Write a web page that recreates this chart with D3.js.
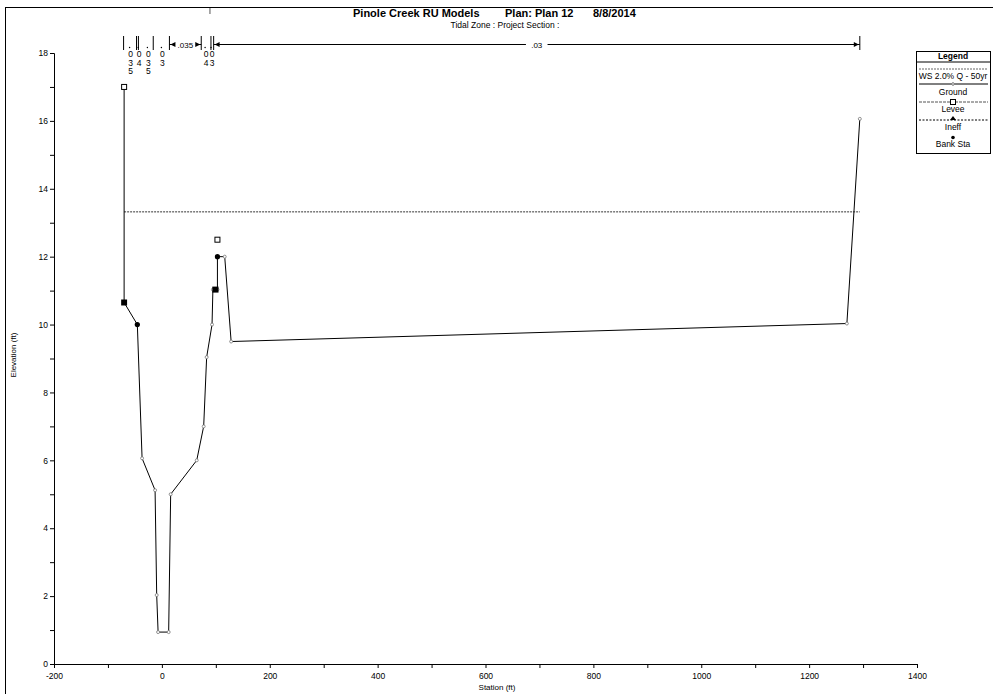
<!DOCTYPE html>
<html>
<head>
<meta charset="utf-8">
<script src="https://cdn.jsdelivr.net/npm/d3@7"></script>
<style>
  body { margin: 0; background: #fff; }
  svg { font-family: 'Liberation Sans', Arial, sans-serif; }
</style>
</head>
<body>
<svg id="chart"></svg>
<script>
// cross section data (station ft, elevation ft)
let groundSta  = [-70, -70, -45.5, -36.7, -12.6, -9.6, -7, 12.6, 16.3, 64.6, 77.5, 83, 93, 94.6, 103, 103, 116.5, 128.4, 1270, 1294]
let groundElev = [17.0, 10.65, 10.0, 6.06, 5.12, 2.03, 0.94, 0.94, 5.0, 6.0, 7.0, 9.04, 10.0, 11.03, 11.03, 12.0, 12.0, 9.5, 10.03, 16.06]

let wsSta = [-70, 1294]
let wsElev = 13.32

let leveeSta = [-70, 103]
let leveeElev = [17.0, 12.5]

let bankSta = [-45.5, 103]
let bankElev = [10.0, 12.0]

// ineffective flow blocks [start, end, elevation]
let ineffBlocks = [[-75.5, -64.5, 10.65], [93.5, 105, 11.03]]

// manning's n labels
let nTicks = [-71, -47, -43.5, -16, 14, 73, 91, 96, 1294]
let nStackSta = [-58, -42, -25, 1, 82, 93]
let nStackVal = ['035', '04', '035', '03', '04', '03']
let nBrackets = [[14, 73, '.035'], [96, 1294, '.03']]

let xTicks = d3.range(-200, 1401, 100)
let yTicks = d3.range(0, 19, 1)

let width = 993
let height = 694

let svg = d3.select('#chart').attr('width', width).attr('height', height)

let xScale = d3.scaleLinear().domain([-200, 1400]).range([54, 917])
let yScale = d3.scaleLinear().domain([0, 18]).range([664, 53])

// page frame
svg.append('line').attr('x1', 5).attr('x2', width).attr('y1', 7.5).attr('y2', 7.5).attr('stroke', '#000')
svg.append('line').attr('x1', 5.5).attr('x2', 5.5).attr('y1', 7).attr('y2', height).attr('stroke', '#000')

// titles
let title = svg.append('g').attr('font-size', 11).attr('font-weight', 'bold')
title.append('text').attr('x', 353).attr('y', 17).text('Pinole Creek RU Models')
title.append('text').attr('x', 505).attr('y', 17).text('Plan: Plan 12')
title.append('text').attr('x', 593).attr('y', 17).text('8/8/2014')
svg.append('text').attr('x', 505).attr('y', 28).attr('text-anchor', 'middle')
   .attr('font-size', 8.5).text('Tidal Zone : Project Section :')

// axes
let xAxis = d3.axisBottom(xScale).tickValues(xTicks).tickSize(4).tickSizeOuter(0)
              .tickFormat(d => d % 200 === 0 ? d : '')
let gx = svg.append('g').attr('transform', 'translate(0,' + yScale(0) + ')').call(xAxis)

let yAxis = d3.axisLeft(yScale).tickValues(yTicks).tickSize(4).tickSizeOuter(4)
              .tickFormat(d => d % 2 === 0 ? d : '')
let gy = svg.append('g').attr('transform', 'translate(' + xScale(-200) + ',0)').call(yAxis)

svg.selectAll('.tick text').attr('font-size', 8.5).attr('font-family', "'Liberation Sans', Arial, sans-serif")
gx.selectAll('.tick text').attr('dy', '0.9em')
gy.selectAll('.tick text').attr('dx', '1px')

svg.append('text').attr('x', 497).attr('y', 690).attr('text-anchor', 'middle')
   .attr('font-size', 8).text('Station (ft)')
svg.append('text').attr('transform', 'translate(16,355) rotate(-90)').attr('text-anchor', 'middle')
   .attr('font-size', 8).text('Elevation (ft)')

// water surface
svg.append('line')
   .attr('x1', xScale(wsSta[0])).attr('x2', xScale(wsSta[1]))
   .attr('y1', yScale(wsElev)).attr('y2', yScale(wsElev))
   .attr('stroke', '#333').attr('stroke-dasharray', '2,1')

// ground line
let ground = groundSta.map((s, i) => [s, groundElev[i]])
let line = d3.line().x(d => xScale(d[0])).y(d => yScale(d[1]))
svg.append('path').datum(ground).attr('d', line)
   .attr('fill', 'none').attr('stroke', '#000').attr('stroke-width', 1)

svg.selectAll('.gpt').data(ground).enter().append('circle')
   .attr('cx', d => xScale(d[0])).attr('cy', d => yScale(d[1])).attr('r', 1.5)
   .attr('fill', '#fff').attr('stroke', '#777').attr('stroke-width', 0.8)

// ineffective blocks
svg.selectAll('.ineff').data(ineffBlocks).enter().append('rect')
   .attr('x', d => xScale(d[0])).attr('width', d => xScale(d[1]) - xScale(d[0]))
   .attr('y', d => yScale(d[2]) - 3).attr('height', 6).attr('fill', '#000')

// levee squares
svg.selectAll('.levee').data(leveeSta).enter().append('rect')
   .attr('x', (d) => xScale(d) - 2.5).attr('y', (d, i) => yScale(leveeElev[i]) - 2.5)
   .attr('width', 5).attr('height', 5).attr('fill', '#fff').attr('stroke', '#000')

// bank stations
svg.selectAll('.bank').data(bankSta).enter().append('circle')
   .attr('cx', d => xScale(d)).attr('cy', (d, i) => yScale(bankElev[i])).attr('r', 2.6)
   .attr('fill', '#000')

// manning's n annotations
let nG = svg.append('g').attr('font-size', 8.5)
nTicks.forEach(s => {
    nG.append('line').attr('x1', xScale(s)).attr('x2', xScale(s))
      .attr('y1', 36).attr('y2', 50).attr('stroke', '#000')
})
nG.append('line').attr('x1', xScale(91) - 1).attr('x2', xScale(91) - 1)
  .attr('y1', 8).attr('y2', 14).attr('stroke', '#555')
nStackSta.forEach((s, i) => {
    let x = xScale(s)
    nG.append('circle').attr('cx', x - 1).attr('cy', 47.5).attr('r', 0.7).attr('fill', '#000')
    nStackVal[i].split('').forEach((c, j) => {
        nG.append('text').attr('x', x).attr('y', 57 + j * 8.5).attr('text-anchor', 'middle').text(c)
    })
})
nBrackets.forEach(b => {
    let x1 = xScale(b[0]), x2 = xScale(b[1]), xm = (x1 + x2) / 2
    let half = b[2].length * 2.6 + 3
    nG.append('line').attr('x1', x1).attr('x2', xm - half).attr('y1', 44.5).attr('y2', 44.5).attr('stroke', '#000')
    nG.append('line').attr('x1', xm + half).attr('x2', x2).attr('y1', 44.5).attr('y2', 44.5).attr('stroke', '#000')
    nG.append('path').attr('d', `M${x1 + 1},44.5 l5,-2.5 v5 z`).attr('fill', '#000')
    nG.append('path').attr('d', `M${x2 - 1},44.5 l-5,-2.5 v5 z`).attr('fill', '#000')
    nG.append('text').attr('x', xm).attr('y', 47.5).attr('text-anchor', 'middle').attr('font-size', 8).text(b[2])
})

// legend
let lg = svg.append('g').attr('font-size', 8.5)
lg.append('rect').attr('x', 916.5).attr('y', 51.5).attr('width', 74).attr('height', 102)
  .attr('fill', '#fff').attr('stroke', '#000')
lg.append('text').attr('x', 953).attr('y', 59).attr('text-anchor', 'middle')
  .attr('font-weight', 'bold').text('Legend')
lg.append('line').attr('x1', 917).attr('x2', 990).attr('y1', 62).attr('y2', 62).attr('stroke', '#000')
lg.append('line').attr('x1', 919).attr('x2', 988).attr('y1', 69).attr('y2', 69).attr('stroke', '#666').attr('stroke-dasharray', '2,1')
lg.append('text').attr('x', 953).attr('y', 79).attr('text-anchor', 'middle').text('WS 2.0% Q - 50yr')
lg.append('line').attr('x1', 919).attr('x2', 988).attr('y1', 84).attr('y2', 84).attr('stroke', '#000')
lg.append('circle').attr('cx', 953).attr('cy', 84).attr('r', 1.3).attr('fill', '#fff').attr('stroke', '#777')
lg.append('text').attr('x', 953).attr('y', 95).attr('text-anchor', 'middle').text('Ground')
lg.append('line').attr('x1', 919).attr('x2', 988).attr('y1', 102).attr('y2', 102).attr('stroke', '#555').attr('stroke-dasharray', '3,1')
lg.append('rect').attr('x', 950.5).attr('y', 99.5).attr('width', 5).attr('height', 5).attr('fill', '#fff').attr('stroke', '#000')
lg.append('text').attr('x', 953).attr('y', 112).attr('text-anchor', 'middle').text('Levee')
lg.append('line').attr('x1', 919).attr('x2', 988).attr('y1', 120).attr('y2', 120).attr('stroke', '#000').attr('stroke-dasharray', '2,1.5')
lg.append('path').attr('d', 'M953,116 l3,4 h-6 z').attr('fill', '#000')
lg.append('text').attr('x', 953).attr('y', 130).attr('text-anchor', 'middle').text('Ineff')
lg.append('circle').attr('cx', 953).attr('cy', 137.5).attr('r', 1.8).attr('fill', '#000')
lg.append('text').attr('x', 953).attr('y', 147).attr('text-anchor', 'middle').text('Bank Sta')
</script>
</body>
</html>
